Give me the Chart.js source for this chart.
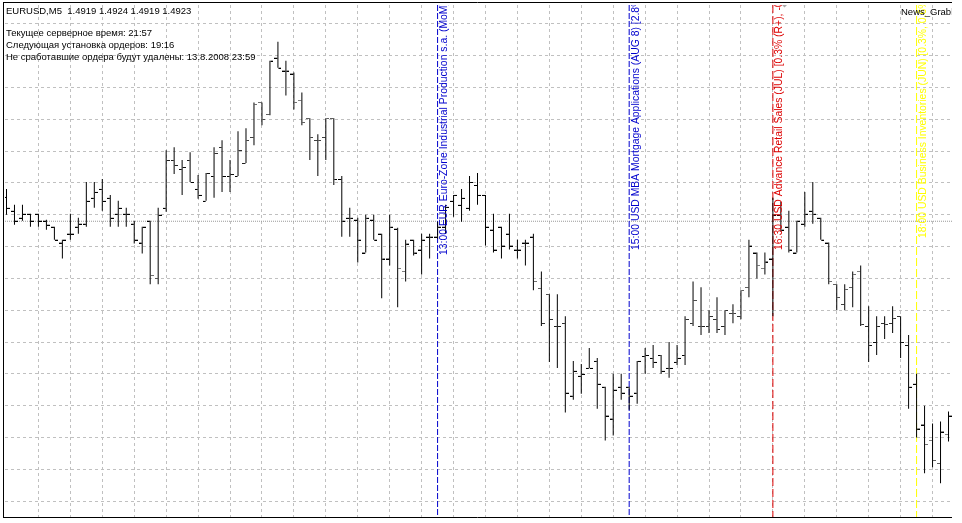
<!DOCTYPE html>
<html><head><meta charset="utf-8">
<script src="https://cdn.jsdelivr.net/npm/chart.js@4.4.1/dist/chart.umd.min.js"></script>
<style>html,body{margin:0;padding:0;background:#fff;overflow:hidden}canvas{display:block}</style>
</head><body>
<canvas id="c" width="962" height="523"></canvas>
<script>
// ---- chart texts ----
const symbolTitle = 'EURUSD,M5  1.4919 1.4924 1.4919 1.4923';
const infoLines = [
  'Текущее серверное время: 21:57',
  'Следующая установка ордеров: 19:16',
  'Не сработавшие ордера будут удалены: 13.8.2008 23:59'
];
const indicatorName = 'News_Grabber';

// ---- M5 bars (index 0 = 08:30, one bar per 5 minutes) ----
const opens = [
1.49278,1.49250,1.49236,1.49244,1.49244,1.49230,1.49218,1.49186,1.49204,1.49218,
1.49224,1.49276,1.49294,1.49276,1.49244,1.49244,1.49224,1.49186,1.49230,1.49114,
1.49256,1.49352,1.49334,1.49352,1.49294,1.49270,1.49320,1.49378,1.49320,1.49320,
1.49346,1.49398,1.49468,1.49444,1.49558,1.49532,1.49526,1.49472,1.49436,1.49392,
1.49398,1.49436,1.49314,1.49236,1.49232,1.49166,1.49232,1.49204,1.49154,1.49214,
1.49128,1.49192,1.49172,1.49198,1.49198,1.49218,1.49270,1.49262,1.49256,1.49302,
1.49282,1.49212,1.49218,1.49204,1.49172,1.49186,1.49198,1.49094,1.49082,1.49018,
1.49024,1.48878,1.48918,1.48934,1.48948,1.48896,1.48832,1.48896,1.48896,1.48884,
1.48958,1.48954,1.48960,1.48934,1.48946,1.48960,1.49024,1.49018,1.49018,1.49032,
1.49018,1.49044,1.49038,1.49096,1.49166,1.49134,1.49154,1.49242,1.49218,1.49166,
1.49224,1.49250,1.49236,1.49186,1.49102,1.49062,1.49096,1.49128,1.49018,1.48986,
1.49024,1.49024,1.49038,1.48980,1.48902,1.48820,1.48788,1.48742,1.48800];
const highs = [
1.49294,1.49262,1.49262,1.49244,1.49244,1.49232,1.49218,1.49192,1.49244,1.49236,
1.49308,1.49308,1.49314,1.49282,1.49270,1.49256,1.49230,1.49218,1.49230,1.49256,
1.49372,1.49378,1.49352,1.49368,1.49322,1.49326,1.49378,1.49392,1.49352,1.49410,
1.49416,1.49468,1.49468,1.49552,1.49590,1.49552,1.49528,1.49488,1.49436,1.49404,
1.49436,1.49436,1.49320,1.49256,1.49236,1.49242,1.49242,1.49204,1.49242,1.49216,
1.49192,1.49192,1.49204,1.49204,1.49228,1.49262,1.49282,1.49294,1.49320,1.49326,
1.49282,1.49244,1.49218,1.49244,1.49192,1.49192,1.49204,1.49128,1.49082,1.49082,
1.49038,1.48948,1.48942,1.48974,1.48954,1.48896,1.48922,1.48922,1.48896,1.48948,
1.48974,1.48980,1.48960,1.48986,1.48980,1.49038,1.49108,1.49096,1.49050,1.49076,
1.49050,1.49062,1.49090,1.49192,1.49166,1.49166,1.49276,1.49268,1.49250,1.49230,
1.49288,1.49308,1.49236,1.49186,1.49102,1.49102,1.49128,1.49140,1.49058,1.49038,
1.49038,1.49058,1.49038,1.49000,1.48922,1.48858,1.48822,1.48826,1.48846];
const lows = [
1.49242,1.49222,1.49230,1.49218,1.49218,1.49212,1.49192,1.49154,1.49192,1.49204,
1.49218,1.49256,1.49250,1.49218,1.49218,1.49218,1.49184,1.49164,1.49102,1.49102,
1.49248,1.49324,1.49282,1.49308,1.49274,1.49270,1.49276,1.49288,1.49288,1.49320,
1.49346,1.49382,1.49422,1.49442,1.49538,1.49482,1.49454,1.49422,1.49352,1.49320,
1.49352,1.49302,1.49198,1.49198,1.49146,1.49166,1.49192,1.49074,1.49140,1.49056,
1.49108,1.49160,1.49122,1.49154,1.49194,1.49204,1.49238,1.49228,1.49250,1.49262,
1.49180,1.49166,1.49154,1.49172,1.49154,1.49140,1.49090,1.49018,1.48946,1.48934,
1.48844,1.48870,1.48882,1.48934,1.48852,1.48788,1.48798,1.48870,1.48850,1.48862,
1.48922,1.48934,1.48922,1.48914,1.48940,1.48940,1.49018,1.49000,1.49004,1.49004,
1.49000,1.49024,1.49032,1.49076,1.49114,1.49122,1.49038,1.49208,1.49166,1.49166,
1.49218,1.49224,1.49192,1.49102,1.49050,1.49050,1.49056,1.49018,1.48946,1.48960,
1.48992,1.49004,1.48954,1.48852,1.48794,1.48722,1.48734,1.48702,1.48786];
const closes = [
1.49256,1.49230,1.49244,1.49230,1.49230,1.49222,1.49192,1.49192,1.49204,1.49224,
1.49270,1.49288,1.49270,1.49236,1.49256,1.49244,1.49192,1.49218,1.49120,1.49242,
1.49352,1.49342,1.49338,1.49308,1.49282,1.49326,1.49366,1.49320,1.49324,1.49372,
1.49392,1.49464,1.49434,1.49552,1.49538,1.49532,1.49468,1.49428,1.49398,1.49392,
1.49436,1.49314,1.49230,1.49236,1.49192,1.49236,1.49192,1.49154,1.49218,1.49134,
1.49184,1.49166,1.49192,1.49198,1.49218,1.49258,1.49282,1.49276,1.49308,1.49282,
1.49218,1.49172,1.49180,1.49180,1.49172,1.49186,1.49108,1.49024,1.49032,1.49018,
1.48884,1.48928,1.48922,1.48934,1.48902,1.48838,1.48890,1.48884,1.48878,1.48948,
1.48960,1.48946,1.48928,1.48934,1.48954,1.49032,1.49070,1.49018,1.49038,1.49012,
1.49050,1.49044,1.49090,1.49180,1.49140,1.49148,1.49242,1.49212,1.49172,1.49230,
1.49244,1.49244,1.49192,1.49108,1.49076,1.49092,1.49122,1.49022,1.48980,1.49018,
1.49022,1.49034,1.48986,1.48896,1.48812,1.48780,1.48748,1.48806,1.48838];

const bidPrice = 1.49229;

// ---- news events (bar index of the event time) ----
const eventBars = [54, 78, 96, 114];
const eventLabels = [
  '13:00 EUR Euro-Zone Industrial Production s.a. (MoM)',
  '15:00 USD MBA Mortgage Applications (AUG 8) [2.8%',
  '16:30 USD Advance Retail Sales (JUL) [0.3% (R+), -0.',
  '18:00 USD Business Inventories (JUN) [0.3%, 0.6%'
];

// ---- grid levels ----
const gridPrices = [1.49626,1.49562,1.49498,1.49434,1.49370,1.49306,1.49242,1.49178,
                    1.49114,1.49050,1.48986,1.48922,1.48858,1.48794,1.48730,1.48666];
const gridBars = [4,8,12,16,20,24,28,32,36,40,44,48,52,56,60,64,68,72,76,80,84,88,92,96,100,104,108,112,116];

// ---- styles ----
const style = {
  xMin: -0.1875, xMax: 118.4375,
  yMin: 1.48632, yMax: 1.49664,
  eventColors: ['#0000cd', '#0000cd', '#dd0000', '#ffff00'],
  eventDash: [[6,2],[6,2],[8,3],[8,3]],
  labelBottom: [255, 250, 250, 238],
  gridColor: '#c0c0c0'
};

function tickImage(left) {
  const c = document.createElement('canvas');
  c.width = 7; c.height = 2;
  const g = c.getContext('2d');
  g.fillStyle = '#000';
  g.fillRect(left ? 0 : 4, 1, 3, 1);
  return c;
}
const openTick = tickImage(true), closeTick = tickImage(false);

const overlay = {
  id: 'overlay',
  afterDatasetsDraw(chart) {
    const {ctx, chartArea: a, scales: {x}} = chart;
    ctx.save();
    ctx.beginPath();
    ctx.rect(a.left, a.top, a.right - a.left, a.bottom - a.top);
    ctx.clip();
    ctx.textBaseline = 'alphabetic';
    ctx.textAlign = 'left';
    ctx.font = '10.4px "Liberation Sans", Arial, sans-serif';
    eventBars.forEach((b, i) => {
      const px = x.getPixelForValue(b);
      ctx.save();
      ctx.translate(px + 9.5, style.labelBottom[i]);
      ctx.rotate(-Math.PI / 2);
      ctx.fillStyle = style.eventColors[i];
      ctx.fillText(eventLabels[i], 0, 0);
      ctx.restore();
    });
    ctx.font = '9.5px "Liberation Sans", Arial, sans-serif';
    ctx.fillStyle = '#000';
    ctx.fillText(indicatorName, 901, 15);
    ctx.fillText(symbolTitle, 6, 14);
    infoLines.forEach((t, i) => ctx.fillText(t, 6, 36 + i * 12));
    // chart-shift marker
    ctx.fillStyle = '#a8a8a8';
    ctx.beginPath(); ctx.moveTo(780, 3); ctx.lineTo(789, 3); ctx.lineTo(784.5, 7.5); ctx.closePath(); ctx.fill();
    ctx.restore();
    // frame
    ctx.save();
    ctx.strokeStyle = '#000'; ctx.lineWidth = 1;
    ctx.beginPath();
    ctx.moveTo(3, 2.5); ctx.lineTo(952, 2.5);
    ctx.moveTo(3.5, 2); ctx.lineTo(3.5, 518);
    ctx.moveTo(3, 517.5); ctx.lineTo(952, 517.5);
    ctx.stroke();
    ctx.restore();
  }
};

const datasets = [
  { type: 'bar', data: lows.map((l, i) => ({x: i, y: [l, highs[i]]})),
    backgroundColor: '#000', borderWidth: 0, barThickness: 1, inflateAmount: 0, order: 0 },
  { type: 'scatter', data: opens.map((v, i) => ({x: i, y: v})),
    pointStyle: openTick, pointRadius: 1, order: 0 },
  { type: 'scatter', data: closes.map((v, i) => ({x: i, y: v})),
    pointStyle: closeTick, pointRadius: 1, order: 0 }
];
eventBars.forEach((b, i) => datasets.push({
  type: 'line', data: [{x: b, y: style.yMax}, {x: b, y: style.yMin}],
  borderColor: style.eventColors[i], borderWidth: 1, borderDash: style.eventDash[i],
  pointRadius: 0, fill: false, order: 5
}));
datasets.push({
  type: 'line', data: [{x: style.xMin, y: bidPrice}, {x: style.xMax, y: bidPrice}],
  borderColor: '#999999', borderWidth: 1, borderDash: [1, 1], pointRadius: 0, fill: false, order: 6
});

const axisCommon = {
  type: 'linear', offset: false, bounds: 'data', beginAtZero: false,
  ticks: { display: false },
  grid: { color: style.gridColor, lineWidth: 1, drawTicks: false, offset: false },
  border: { display: false, dash: [3, 3] }
};

new Chart(document.getElementById('c'), {
  type: 'scatter',
  data: { datasets },
  options: {
    responsive: false, animation: false, events: [],
    layout: { padding: { left: 3, top: 2, right: 10, bottom: 5 } },
    plugins: { legend: { display: false }, tooltip: { enabled: false } },
    scales: {
      x: Object.assign({}, axisCommon, { min: style.xMin, max: style.xMax,
        afterBuildTicks: s => { s.ticks = gridBars.map(v => ({value: v})); } }),
      y: Object.assign({}, axisCommon, { min: style.yMin, max: style.yMax,
        afterBuildTicks: s => { s.ticks = gridPrices.map(v => ({value: v})); } })
    }
  },
  plugins: [overlay]
});
</script>
</body></html>
